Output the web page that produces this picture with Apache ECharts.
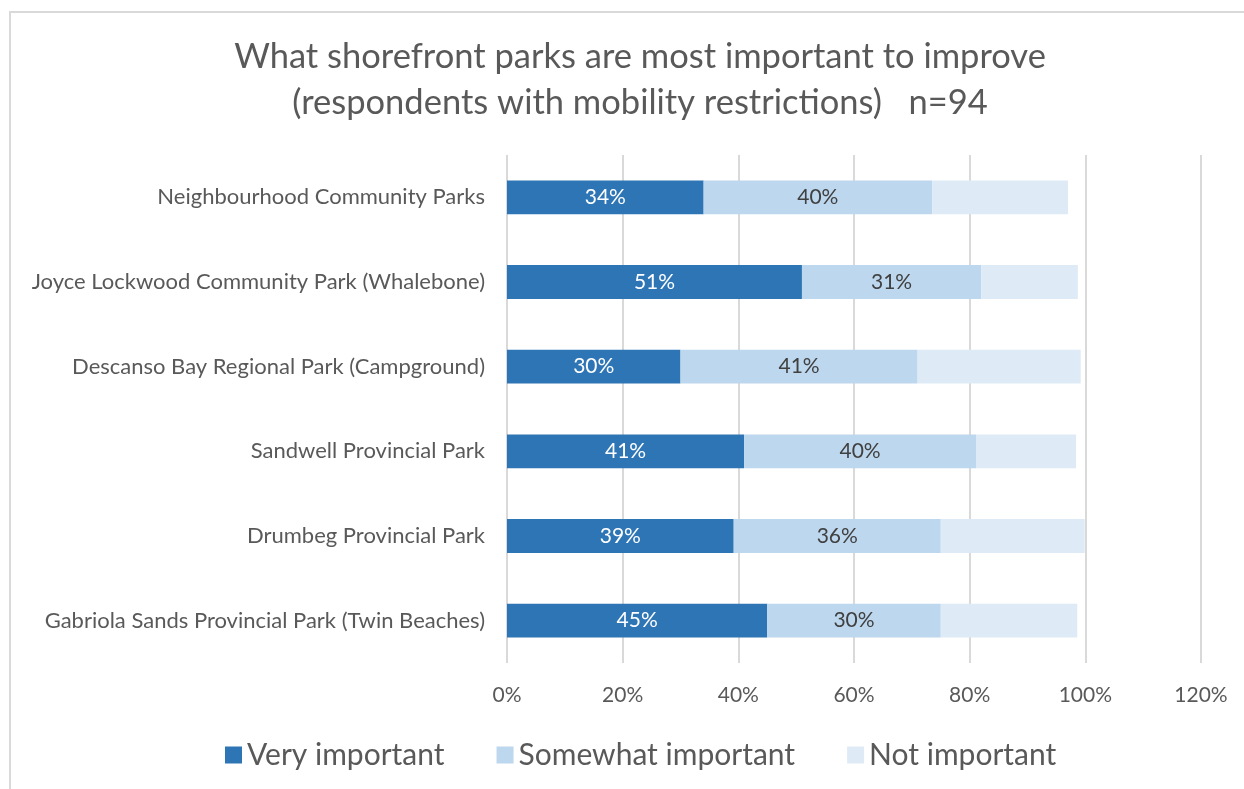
<!DOCTYPE html>
<html>
<head>
<meta charset="utf-8">
<script src="https://cdn.jsdelivr.net/npm/echarts@6/dist/echarts.min.js"></script>
<style>
html,body{margin:0;padding:0;background:#fff;}
#frame{position:absolute;left:9px;top:11px;right:-2px;bottom:-2px;border-top:2px solid #d9d9d9;border-left:2px solid #d9d9d9;}
#chart{position:absolute;left:0;top:0;width:1244px;height:789px;}
</style>
</head>
<body>
<div id="frame"></div>
<div id="chart"></div>
<script>
const categories = [
  "Neighbourhood Community Parks",
  "Joyce Lockwood Community Park (Whalebone)",
  "Descanso Bay Regional Park (Campground)",
  "Sandwell Provincial Park",
  "Drumbeg Provincial Park",
  "Gabriola Sands Provincial Park (Twin Beaches)"
];
const seriesNames = ["Very important", "Somewhat important", "Not important"];
const veryImportant = [34, 51, 30, 41, 39.2, 45];
const somewhatImportant = [39.5, 31, 41, 40.1, 35.8, 30];
const notImportant = [23.5, 16.7, 28.2, 17.3, 24.9, 23.6];
const colors = ["#2E75B6", "#BDD7EE", "#DEEBF7"];

const FONT = "Lato";
const chart = echarts.init(document.getElementById('chart'), null, {renderer: 'canvas'});
function mk(name, data, color, labelColor, showLabel) {
  return {
    name: name, type: 'bar', stack: 'total', data: data,
    barCategoryGap: '60%',
    itemStyle: {color: color},
    label: {
      show: showLabel, position: 'inside', color: labelColor,
      fontFamily: FONT, fontSize: 21,
      formatter: p => Math.round(p.value) + '%'
    },
    emphasis: {disabled: true}
  };
}
chart.setOption({
  animation: false,
  backgroundColor: 'transparent',
  title: {
    text: "What shorefront parks are most important to improve\n(respondents with mobility restrictions)   n=94",
    left: 635, top: 29, textAlign: 'center',
    textStyle: {fontFamily: FONT, fontSize: 34.5, fontWeight: 'normal', color: '#595959', lineHeight: 46}
  },
  legend: {
    left: 220, top: 735,
    itemWidth: 17, itemHeight: 17, itemGap: 52,
    icon: 'rect',
    textStyle: {fontFamily: FONT, fontSize: 30, color: '#595959'},
    data: seriesNames
  },
  grid: {left: 507, right: 43, top: 155, bottom: 126, containLabel: false},
  xAxis: {
    type: 'value', min: 0, max: 120, interval: 20,
    axisLine: {show: false}, axisTick: {show: false},
    splitLine: {lineStyle: {color: '#d9d9d9', width: 2}},
    axisLabel: {fontFamily: FONT, fontSize: 21, color: '#595959', margin: 22, formatter: v => v + '%'}
  },
  yAxis: {
    type: 'category', data: categories, inverse: true,
    axisLine: {show: false}, axisTick: {show: false},
    axisLabel: {fontFamily: FONT, fontSize: 22, color: '#595959', margin: 22}
  },
  series: [
    mk(seriesNames[0], veryImportant, colors[0], '#ffffff', true),
    mk(seriesNames[1], somewhatImportant, colors[1], '#404040', true),
    mk(seriesNames[2], notImportant, colors[2], '#404040', false)
  ]
});
</script>
</body>
</html>
